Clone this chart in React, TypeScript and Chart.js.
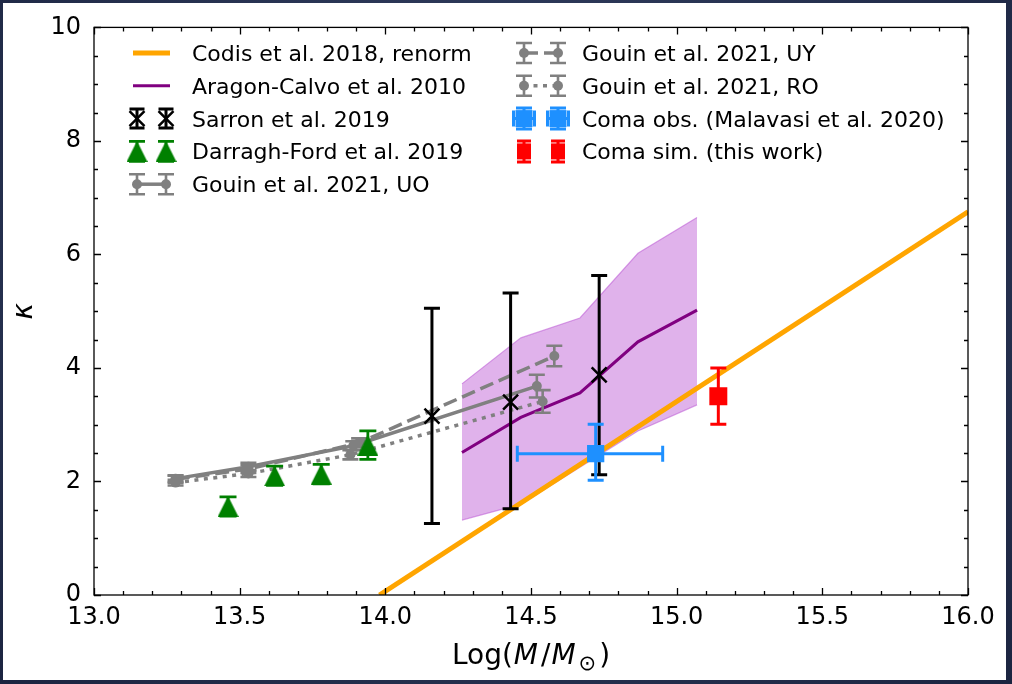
import React, { useEffect, useRef } from "react";
import { Chart, registerables } from "chart.js";
Chart.register(...registerables);

// ---------------- data ----------------
const xTicks = [13.0, 13.5, 14.0, 14.5, 15.0, 15.5, 16.0];
const yTicks = [0, 2, 4, 6, 8, 10];

const codisX = [13.98, 16.0];
const codisY = [0.0, 6.75];

const aragonX = [14.263, 14.465, 14.668, 14.867, 15.07];
const aragonY = [2.51, 3.13, 3.56, 4.46, 5.02];
const aragonUp = [3.72, 4.53, 4.88, 6.02, 6.65];
const aragonLo = [1.32, 1.6, 2.25, 2.89, 3.35];

const sarronX = [14.16, 14.43, 14.734];
const sarronY = [3.15, 3.4, 3.88];
const sarronLo = [1.26, 1.52, 2.12];
const sarronHi = [5.05, 5.32, 5.63];

const darraghX = [13.46, 13.62, 13.78, 13.94];
const darraghY = [1.56, 2.1, 2.13, 2.64];
const darraghErr = [0.17, 0.17, 0.17, 0.25];

const uoX = [13.28, 13.53, 13.89, 14.52];
const uoY = [2.05, 2.26, 2.63, 3.68];
const uoErr = [0.06, 0.07, 0.08, 0.2];

const uyX = [13.28, 13.53, 13.91, 14.58];
const uyY = [2.04, 2.22, 2.68, 4.21];
const uyErr = [0.06, 0.07, 0.08, 0.18];

const roX = [13.28, 13.53, 13.88, 14.54];
const roY = [1.98, 2.14, 2.47, 3.41];
const roErr = [0.05, 0.06, 0.08, 0.2];

const comaObsX = [14.722];
const comaObsY = [2.49];
const comaObsXLo = [14.453];
const comaObsXHi = [14.952];
const comaObsYLo = [2.02];
const comaObsYHi = [3.01];

const comaSimX = [15.143];
const comaSimY = [3.5];
const comaSimYLo = [3.01];
const comaSimYHi = [4.0];

const labels = {
  codis: "Codis et al. 2018, renorm",
  aragon: "Aragon-Calvo et al. 2010",
  sarron: "Sarron et al. 2019",
  darragh: "Darragh-Ford et al. 2019",
  uo: "Gouin et al. 2021, UO",
  uy: "Gouin et al. 2021, UY",
  ro: "Gouin et al. 2021, RO",
  obs: "Coma obs. (Malavasi et al. 2020)",
  sim: "Coma sim. (this work)",
};

// ---------------- helpers ----------------
const pts = (xs: number[], ys: number[]) => xs.map((x, i) => ({ x, y: ys[i] }));
const minus = (ys: number[], es: number[]) => ys.map((v, i) => v - es[i]);
const plus = (ys: number[], es: number[]) => ys.map((v, i) => v + es[i]);

const ORANGE = "#ffa500";
const PURPLE = "#800080";
const GRAY = "#808080";
const GREEN = "#008000";
const BLUE = "#1e90ff";
const RED = "#ff0000";
const FONT = '"DejaVu Sans", "Liberation Sans", sans-serif';

type ErrSpec = {
  x: number[];
  y: number[];
  yLo?: number[];
  yHi?: number[];
  xLo?: number[];
  xHi?: number[];
  color: string;
  lw: number;
  cap: number;
};

const errSpecs: Record<string, ErrSpec> = {
  [labels.sarron]: { x: sarronX, y: sarronY, yLo: sarronLo, yHi: sarronHi, color: "#000", lw: 3, cap: 8 },
  [labels.darragh]: { x: darraghX, y: darraghY, yLo: minus(darraghY, darraghErr), yHi: plus(darraghY, darraghErr), color: GREEN, lw: 2.8, cap: 8.5 },
  [labels.uo]: { x: uoX, y: uoY, yLo: minus(uoY, uoErr), yHi: plus(uoY, uoErr), color: GRAY, lw: 2.6, cap: 8 },
  [labels.uy]: { x: uyX, y: uyY, yLo: minus(uyY, uyErr), yHi: plus(uyY, uyErr), color: GRAY, lw: 2.6, cap: 8 },
  [labels.ro]: { x: roX, y: roY, yLo: minus(roY, roErr), yHi: plus(roY, roErr), color: GRAY, lw: 2.6, cap: 8 },
  [labels.obs]: { x: comaObsX, y: comaObsY, yLo: comaObsYLo, yHi: comaObsYHi, xLo: comaObsXLo, xHi: comaObsXHi, color: BLUE, lw: 3, cap: 8 },
  [labels.sim]: { x: comaSimX, y: comaSimY, yLo: comaSimYLo, yHi: comaSimYHi, color: RED, lw: 3, cap: 8 },
};

let triCache: HTMLCanvasElement | null = null;
function getTriangle(): HTMLCanvasElement {
  if (triCache) return triCache;
  const size = 21;
  const c = document.createElement("canvas");
  c.width = size;
  c.height = size;
  const g = c.getContext("2d")!;
  g.fillStyle = GREEN;
  g.beginPath();
  g.moveTo(size / 2, 0);
  g.lineTo(size, size);
  g.lineTo(0, size);
  g.closePath();
  g.fill();
  triCache = c;
  return c;
}

function vErr(ctx: CanvasRenderingContext2D, x: number, y1: number, y2: number, color: string, lw: number, cap: number) {
  ctx.save();
  ctx.strokeStyle = color;
  ctx.lineWidth = lw;
  ctx.lineCap = "butt";
  ctx.setLineDash([]);
  ctx.beginPath();
  ctx.moveTo(x, y1);
  ctx.lineTo(x, y2);
  ctx.moveTo(x - cap, y1);
  ctx.lineTo(x + cap, y1);
  ctx.moveTo(x - cap, y2);
  ctx.lineTo(x + cap, y2);
  ctx.stroke();
  ctx.restore();
}

function hErr(ctx: CanvasRenderingContext2D, y: number, x1: number, x2: number, color: string, lw: number, cap: number) {
  ctx.save();
  ctx.strokeStyle = color;
  ctx.lineWidth = lw;
  ctx.lineCap = "butt";
  ctx.setLineDash([]);
  ctx.beginPath();
  ctx.moveTo(x1, y);
  ctx.lineTo(x2, y);
  ctx.moveTo(x1, y - cap);
  ctx.lineTo(x1, y + cap);
  ctx.moveTo(x2, y - cap);
  ctx.lineTo(x2, y + cap);
  ctx.stroke();
  ctx.restore();
}

const errPlugin = {
  id: "errbars",
  beforeDatasetDraw(chart: any, args: any) {
    const ds = chart.data.datasets[args.index];
    const spec = errSpecs[ds.label];
    if (!spec) return;
    const { ctx, chartArea: a } = chart;
    const xs = chart.scales.x;
    const ys = chart.scales.y;
    ctx.save();
    ctx.beginPath();
    ctx.rect(a.left, a.top, a.right - a.left, a.bottom - a.top);
    ctx.clip();
    spec.x.forEach((xv, i) => {
      const px = xs.getPixelForValue(xv);
      const py = ys.getPixelForValue(spec.y[i]);
      if (spec.xLo && spec.xHi) {
        hErr(ctx, py, xs.getPixelForValue(spec.xLo[i]), xs.getPixelForValue(spec.xHi[i]), spec.color, spec.lw, spec.cap);
      }
      if (spec.yLo && spec.yHi) {
        vErr(ctx, px, ys.getPixelForValue(spec.yHi[i]), ys.getPixelForValue(spec.yLo[i]), spec.color, spec.lw, spec.cap);
      }
    });
    ctx.restore();
  },
};

const axesPlugin = {
  id: "mplaxes",
  afterDatasetsDraw(chart: any) {
    const { ctx, chartArea: a } = chart;
    const xs = chart.scales.x;
    const ys = chart.scales.y;
    ctx.save();
    ctx.strokeStyle = "#000";
    ctx.lineWidth = 1.3;
    ctx.setLineDash([]);
    ctx.strokeRect(a.left, a.top, a.right - a.left, a.bottom - a.top);
    ctx.beginPath();
    for (let i = 0; i <= 30; i++) {
      const v = 13 + i * 0.1;
      const px = Math.round(xs.getPixelForValue(v)) + 0.5;
      const len = i % 5 === 0 ? 7 : 4;
      ctx.moveTo(px, a.bottom);
      ctx.lineTo(px, a.bottom - len);
      ctx.moveTo(px, a.top);
      ctx.lineTo(px, a.top + len);
    }
    for (let i = 0; i <= 20; i++) {
      const v = i * 0.5;
      const py = Math.round(ys.getPixelForValue(v)) + 0.5;
      const len = i % 4 === 0 ? 7 : 4;
      ctx.moveTo(a.left, py);
      ctx.lineTo(a.left + len, py);
      ctx.moveTo(a.right, py);
      ctx.lineTo(a.right - len, py);
    }
    ctx.stroke();
    ctx.restore();
  },
  afterDraw(chart: any) {
    const ctx: CanvasRenderingContext2D = chart.ctx;
    const a = chart.chartArea;
    ctx.save();
    ctx.setLineDash([]);
    ctx.fillStyle = "#000";
    // x-axis title: Log(M/M_sun)
    const big = 28;
    const parts: { t: string; f: string; dy: number; gap: number }[] = [
      { t: "Log(", f: `${big}px ${FONT}`, dy: 0, gap: 1 },
      { t: "M", f: `italic ${big}px ${FONT}`, dy: 0, gap: 3 },
      { t: "/", f: `${big}px ${FONT}`, dy: 0, gap: 1 },
      { t: "M", f: `italic ${big}px ${FONT}`, dy: 0, gap: 3 },
      { t: "\u2299", f: `${Math.round(big * 0.75)}px ${FONT}`, dy: 6, gap: 3 },
      { t: ")", f: `${big}px ${FONT}`, dy: 0, gap: 0 },
    ];
    let total = 0;
    const widths = parts.map((p) => {
      ctx.font = p.f;
      const w = ctx.measureText(p.t).width + p.gap;
      total += w;
      return w;
    });
    let cx = (a.left + a.right) / 2 - total / 2;
    const base = 664;
    ctx.textBaseline = "alphabetic";
    ctx.textAlign = "left";
    parts.forEach((p, i) => {
      ctx.font = p.f;
      ctx.fillText(p.t, cx, base + p.dy);
      cx += widths[i];
    });
    // y-axis title kappa
    ctx.save();
    ctx.translate(25, (a.top + a.bottom) / 2);
    ctx.rotate(-Math.PI / 2);
    ctx.font = `italic ${big}px ${FONT}`;
    ctx.textAlign = "center";
    ctx.textBaseline = "middle";
    ctx.fillText("\u03ba", 0, 0);
    ctx.restore();

    // legend
    const tri = getTriangle();
    const rowY = [53, 85.8, 118.6, 151.4, 184.2];
    const text = (t: string, x: number, y: number) => {
      ctx.fillStyle = "#000";
      ctx.font = `22px ${FONT}`;
      ctx.textAlign = "left";
      ctx.textBaseline = "alphabetic";
      ctx.fillText(t, x, y + 8);
    };
    const line = (x1: number, x2: number, y: number, color: string, lw: number, dash: number[] = []) => {
      ctx.save();
      ctx.strokeStyle = color;
      ctx.lineWidth = lw;
      ctx.setLineDash(dash);
      ctx.beginPath();
      ctx.moveTo(x1, y);
      ctx.lineTo(x2, y);
      ctx.stroke();
      ctx.restore();
    };
    const dot = (x: number, y: number) => {
      ctx.save();
      ctx.fillStyle = GRAY;
      ctx.beginPath();
      ctx.arc(x, y, 5, 0, Math.PI * 2);
      ctx.fill();
      ctx.restore();
    };
    const cross = (x: number, y: number) => {
      ctx.save();
      ctx.strokeStyle = "#000";
      ctx.lineWidth = 2.5;
      ctx.beginPath();
      ctx.moveTo(x - 7.5, y - 7.5);
      ctx.lineTo(x + 7.5, y + 7.5);
      ctx.moveTo(x - 7.5, y + 7.5);
      ctx.lineTo(x + 7.5, y - 7.5);
      ctx.stroke();
      ctx.restore();
    };
    const L1 = 137, L2 = 166, LT = 192;
    // left column
    line(133, 170, rowY[0], ORANGE, 5);
    text(labels.codis, LT, rowY[0]);
    line(133, 170, rowY[1], PURPLE, 3);
    text(labels.aragon, LT, rowY[1]);
    [L1, L2].forEach((x) => {
      vErr(ctx, x, rowY[2] - 9.5, rowY[2] + 9.5, "#000", 3, 7.5);
      cross(x, rowY[2]);
    });
    text(labels.sarron, LT, rowY[2]);
    [L1, L2].forEach((x) => {
      vErr(ctx, x, rowY[3] - 10, rowY[3] + 10, GREEN, 2.8, 8);
      ctx.drawImage(tri, x - tri.width / 2, rowY[3] - tri.height / 2);
    });
    text(labels.darragh, LT, rowY[3]);
    line(L1, L2, rowY[4], GRAY, 3.5);
    [L1, L2].forEach((x) => {
      vErr(ctx, x, rowY[4] - 10, rowY[4] + 10, GRAY, 2.6, 8);
      dot(x, rowY[4]);
    });
    text(labels.uo, LT, rowY[4]);
    // right column
    const R1 = 524, R2 = 558, RT = 582;
    line(R1, R2, rowY[0], GRAY, 3.5, [14, 6]);
    [R1, R2].forEach((x) => {
      vErr(ctx, x, rowY[0] - 10, rowY[0] + 10, GRAY, 2.6, 8);
      dot(x, rowY[0]);
    });
    text(labels.uy, RT, rowY[0]);
    line(R1, R2, rowY[1], GRAY, 3.5, [4, 5.5]);
    [R1, R2].forEach((x) => {
      vErr(ctx, x, rowY[1] - 10, rowY[1] + 10, GRAY, 2.6, 8);
      dot(x, rowY[1]);
    });
    text(labels.ro, RT, rowY[1]);
    [R1, R2].forEach((x) => {
      hErr(ctx, rowY[2], x - 10.5, x + 10.5, BLUE, 3, 8);
      vErr(ctx, x, rowY[2] - 10.5, rowY[2] + 10.5, BLUE, 3, 8);
      ctx.fillStyle = BLUE;
      ctx.fillRect(x - 8.5, rowY[2] - 8.5, 17, 17);
    });
    text(labels.obs, RT, rowY[2]);
    [R1, R2].forEach((x) => {
      vErr(ctx, x, rowY[3] - 10.5, rowY[3] + 10.5, RED, 3, 7);
      ctx.fillStyle = RED;
      ctx.fillRect(x - 7, rowY[3] - 8, 14, 16);
    });
    text(labels.sim, RT, rowY[3]);
    ctx.restore();
  },
};

export default function App() {
  const ref = useRef<HTMLCanvasElement>(null);
  useEffect(() => {
    document.body.style.margin = "0";
    const canvas = ref.current!;
    const tri = getTriangle();
    Chart.defaults.font.family = FONT;
    Chart.defaults.color = "#000";
    const chart: any = new Chart(canvas, {
      type: "line",
      data: {
        datasets: [
          {
            label: "band-lo",
            data: pts(aragonX, aragonLo),
            borderColor: "rgba(186,85,211,0.55)",
            borderWidth: 1.2,
            pointRadius: 0,
            fill: false,
            order: 30,
          },
          {
            label: "band-up",
            data: pts(aragonX, aragonUp),
            borderColor: "rgba(186,85,211,0.55)",
            borderWidth: 1.2,
            backgroundColor: "rgba(186,85,211,0.45)",
            pointRadius: 0,
            fill: 0,
            order: 29,
          },
          {
            label: labels.aragon,
            data: pts(aragonX, aragonY),
            borderColor: PURPLE,
            borderWidth: 3,
            pointRadius: 0,
            order: 25,
          },
          {
            label: labels.uo,
            data: pts(uoX, uoY),
            borderColor: GRAY,
            borderWidth: 3.5,
            pointRadius: 5,
            pointBackgroundColor: GRAY,
            pointBorderWidth: 0,
            order: 22,
          },
          {
            label: labels.uy,
            data: pts(uyX, uyY),
            borderColor: GRAY,
            borderWidth: 3.5,
            borderDash: [14, 6],
            pointRadius: 5,
            pointBackgroundColor: GRAY,
            pointBorderWidth: 0,
            order: 21,
          },
          {
            label: labels.ro,
            data: pts(roX, roY),
            borderColor: GRAY,
            borderWidth: 3.5,
            borderDash: [4, 5.5],
            pointRadius: 5,
            pointBackgroundColor: GRAY,
            pointBorderWidth: 0,
            order: 20,
          },
          {
            label: labels.codis,
            data: pts(codisX, codisY),
            borderColor: ORANGE,
            borderWidth: 5,
            pointRadius: 0,
            order: 15,
          },
          {
            label: labels.sarron,
            data: pts(sarronX, sarronY),
            showLine: false,
            pointStyle: "crossRot",
            pointRadius: 10.6,
            pointBorderColor: "#000",
            pointBorderWidth: 2.5,
            order: 10,
          },
          {
            label: labels.darragh,
            data: pts(darraghX, darraghY),
            showLine: false,
            pointStyle: tri,
            pointRadius: 10,
            order: 9,
          },
          {
            label: labels.obs,
            data: pts(comaObsX, comaObsY),
            showLine: false,
            pointStyle: "rect",
            pointRadius: 12.2,
            pointBackgroundColor: BLUE,
            pointBorderWidth: 0,
            order: 5,
          },
          {
            label: labels.sim,
            data: pts(comaSimX, comaSimY),
            showLine: false,
            pointStyle: "rect",
            pointRadius: 12.7,
            pointBackgroundColor: RED,
            pointBorderWidth: 0,
            order: 4,
          },
        ] as any,
      },
      options: {
        responsive: false,
        animation: false,
        events: [],
        layout: { padding: { top: 25, right: 44, left: 0, bottom: 0 } },
        plugins: { legend: { display: false }, tooltip: { enabled: false } },
        elements: { line: { tension: 0 } },
        scales: {
          x: {
            type: "linear",
            min: 13,
            max: 16,
            grid: { display: false, drawTicks: false },
            border: { display: false },
            afterBuildTicks: (s: any) => {
              s.ticks = xTicks.map((v) => ({ value: v }));
            },
            afterFit: (s: any) => {
              s.height = 89;
            },
            ticks: {
              padding: 8,
              maxRotation: 0,
              autoSkip: false,
              font: { size: 24, family: FONT },
              color: "#000",
              callback: (v: any) => Number(v).toFixed(1),
            },
          },
          y: {
            type: "linear",
            min: 0,
            max: 10,
            grid: { display: false, drawTicks: false },
            border: { display: false },
            afterBuildTicks: (s: any) => {
              s.ticks = yTicks.map((v) => ({ value: v }));
            },
            afterFit: (s: any) => {
              s.width = 94;
            },
            ticks: {
              padding: 13,
              autoSkip: false,
              font: { size: 24, family: FONT },
              color: "#000",
              callback: (v: any) => String(v),
            },
          },
        },
      },
      plugins: [errPlugin, axesPlugin],
    } as any);
    return () => chart.destroy();
  }, []);

  return (
    <div
      style={{
        position: "fixed",
        left: 0,
        top: 0,
        width: 1012,
        height: 684,
        overflow: "hidden",
        background: "radial-gradient(ellipse at 50% 40%, #4a5a7c 0%, #2c3858 45%, #1b2440 100%)",
      }}
    >
      <div style={{ position: "absolute", left: 3, top: 3, width: 1003, height: 677, background: "#fff" }} />
      <canvas ref={ref} width={1012} height={684} style={{ position: "absolute", left: 0, top: 0 }} />
    </div>
  );
}
